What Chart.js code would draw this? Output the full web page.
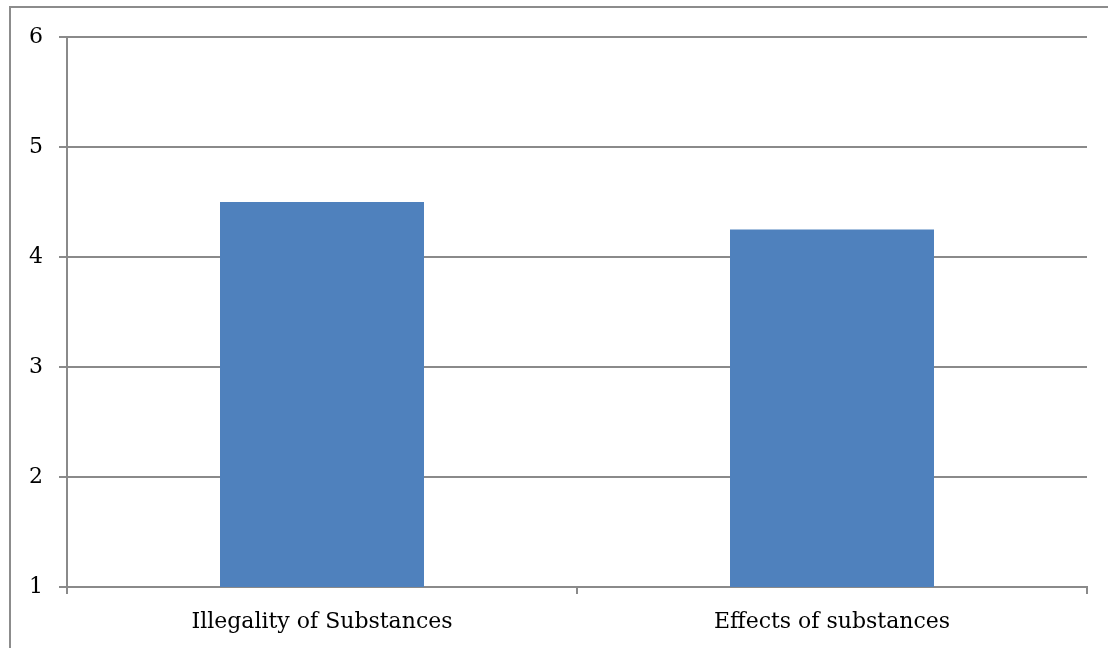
<!DOCTYPE html>
<html>
<head>
<meta charset="utf-8">
<script src="https://cdn.jsdelivr.net/npm/chart.js@4/dist/chart.umd.min.js"></script>
<style>
  html, body { margin: 0; padding: 0; background: #fff; }
  #wrap { position: relative; width: 1108px; height: 648px; overflow: hidden; }
  #frame { position: absolute; left: 9px; top: 6px; width: 1200px; height: 700px;
           border-top: 2px solid #8c8c8c; border-left: 2px solid #8c8c8c; }
  canvas { position: absolute; left: 0; top: 0; }
</style>
</head>
<body>
<div id="wrap">
  <div id="frame"></div>
  <canvas id="chart" width="1108" height="648"></canvas>
</div>
<script>
const categories = ['Illegality of Substances', 'Effects of substances'];
const values = [4.5, 4.25];
const yTicks = [1, 2, 3, 4, 5, 6];

const gridColor = '#8a8a8a';
const fontFamily = '"DejaVu Serif", "Liberation Serif", serif';

new Chart(document.getElementById('chart').getContext('2d'), {
    type: 'bar',
    data: {
        labels: categories,
        datasets: [{
            data: values,
            backgroundColor: '#4f81bd',
            borderWidth: 0,
            barPercentage: 0.4,
            categoryPercentage: 1.0
        }]
    },
    options: {
        responsive: false,
        animation: false,
        layout: { padding: { left: 0, top: 37, right: 21, bottom: 0 } },
        plugins: {
            legend: { display: false },
            tooltip: { enabled: false }
        },
        scales: {
            x: {
                afterFit: s => { s.height = 61; },
                grid: {
                    drawOnChartArea: false,
                    drawTicks: true,
                    tickLength: 7,
                    color: gridColor,
                    lineWidth: 2
                },
                border: { color: gridColor, width: 2 },
                ticks: {
                    color: '#000',
                    padding: 15,
                    font: { family: fontFamily, size: 22 }
                }
            },
            y: {
                min: 1,
                max: 6,
                afterFit: s => { s.width = 67; },
                afterBuildTicks: s => { s.ticks = yTicks.map(v => ({ value: v })); },
                grid: {
                    color: gridColor,
                    lineWidth: 2,
                    tickLength: 8
                },
                border: { color: gridColor, width: 2 },
                ticks: {
                    color: '#000',
                    padding: 16,
                    font: { family: fontFamily, size: 22 }
                }
            }
        }
    }
});
</script>
</body>
</html>
